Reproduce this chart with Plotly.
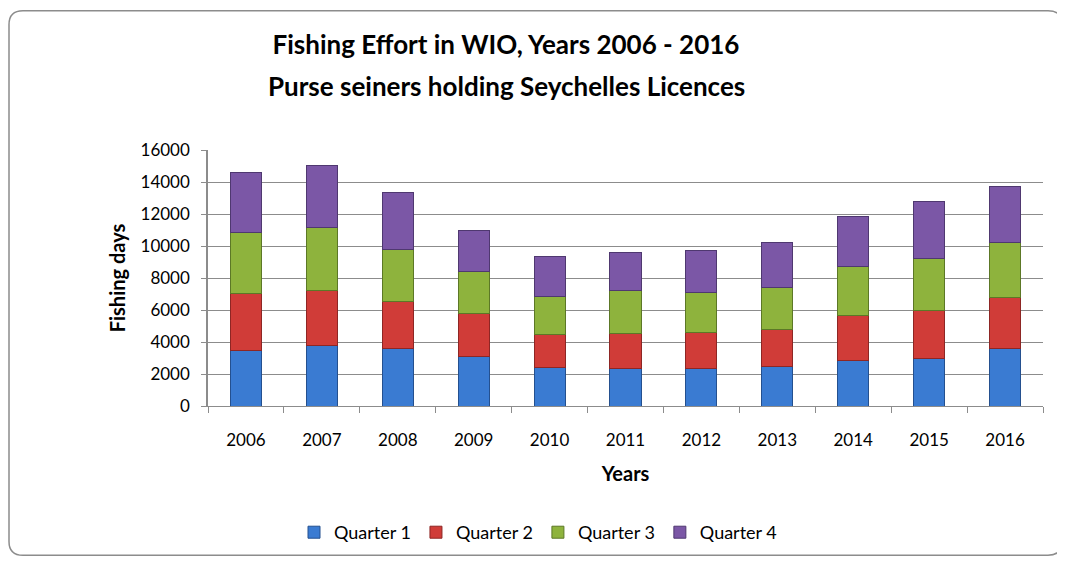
import plotly.graph_objects as go

# Fishing days per quarter, purse seiners holding Seychelles licences
years = ["2006", "2007", "2008", "2009", "2010", "2011",
         "2012", "2013", "2014", "2015", "2016"]
quarter_1 = [3490, 3800, 3620, 3120, 2380, 2320, 2320, 2450, 2820, 3000, 3620]
quarter_2 = [3520, 3450, 2940, 2650, 2100, 2240, 2280, 2340, 2860, 2960, 3150]
quarter_3 = [3860, 3890, 3210, 2630, 2340, 2670, 2470, 2630, 3040, 3250, 3430]
quarter_4 = [3700, 3890, 3560, 2550, 2530, 2360, 2650, 2800, 3100, 3600, 3540]

series = [
    ("Quarter 1", quarter_1, "#3a7bd2", "#24508f"),
    ("Quarter 2", quarter_2, "#d03c38", "#8e2624"),
    ("Quarter 3", quarter_3, "#8eb33d", "#5c7826"),
    ("Quarter 4", quarter_4, "#7b57a6", "#4f3870"),
]

FONT = "Lato, Open Sans, sans-serif"

fig = go.Figure()
for name, vals, col, edge in series:
    fig.add_trace(go.Bar(
        x=years, y=vals, name=name,
        marker=dict(color=col, line=dict(color=edge, width=1)),
    ))

# the page body has an 8px margin, so the figure is laid out 8px up/left
W, H = 835, 259          # plot area in px
L, T = 200, 142          # plot area origin in px


def px_x(v):
    return (v - L) / W


def px_y(v):
    return (T + H - v) / H


# rounded chart-area border
x0, x1 = px_x(1), px_x(1054)
y0, y1 = px_y(552), px_y(1)
rx, ry = 14 / W, 14 / H
border = (
    f"M {x0 + rx},{y1} L {x1 - rx},{y1} Q {x1},{y1} {x1},{y1 - ry} "
    f"L {x1},{y0 + ry} Q {x1},{y0} {x1 - rx},{y0} "
    f"L {x0 + rx},{y0} Q {x0},{y0} {x0},{y0 + ry} "
    f"L {x0},{y1 - ry} Q {x0},{y1} {x0 + rx},{y1} Z"
)
fig.add_shape(type="path", path=border, xref="paper", yref="paper",
              line=dict(color="#8c8c8c", width=1.5), layer="below")

fig.add_annotation(
    text="<b>Purse seiners holding Seychelles Licences</b>",
    xref="paper", yref="paper", x=px_x(498), y=px_y(77),
    xanchor="center", yanchor="middle", showarrow=False,
    font=dict(family=FONT, size=26, color="black"),
)

fig.update_layout(
    width=1057, height=555,
    margin=dict(l=L, r=1057 - L - W, t=T, b=555 - T - H),
    paper_bgcolor="white", plot_bgcolor="white",
    barmode="stack", bargap=0.59,
    font=dict(family=FONT, size=17, color="black"),
    title=dict(
        text="<b>Fishing Effort in WIO, Years 2006 - 2016</b>",
        x=498 / 1057, xanchor="center", y=1 - 37 / 555, yanchor="middle",
        font=dict(family=FONT, size=26, color="black"),
    ),
    legend=dict(
        orientation="h", traceorder="normal",
        x=px_x(530), xanchor="center", y=px_y(529), yanchor="middle",
        font=dict(size=18), itemwidth=30,
    ),
    showlegend=True,
)
fig.update_xaxes(
    showline=True, linecolor="#8c8c8c", linewidth=1,
    ticks="outside", tickson="boundaries", ticklen=6, tickcolor="#8c8c8c",
    tickfont=dict(size=17), ticklabelstandoff=19,
    title=dict(text="<b>Years</b>", font=dict(size=20), standoff=17),
)
fig.update_yaxes(
    range=[0, 16000], dtick=2000, tickformat="d",
    showline=True, linecolor="#8c8c8c", linewidth=1.5,
    showgrid=True, gridcolor="#8c8c8c", gridwidth=1,
    ticks="outside", ticklen=5, tickcolor="#8c8c8c",
    tickfont=dict(size=17), ticklabelstandoff=8,
    title=dict(text="<b>Fishing days</b>", font=dict(size=20), standoff=10),
)

fig.write_html("out.html")
